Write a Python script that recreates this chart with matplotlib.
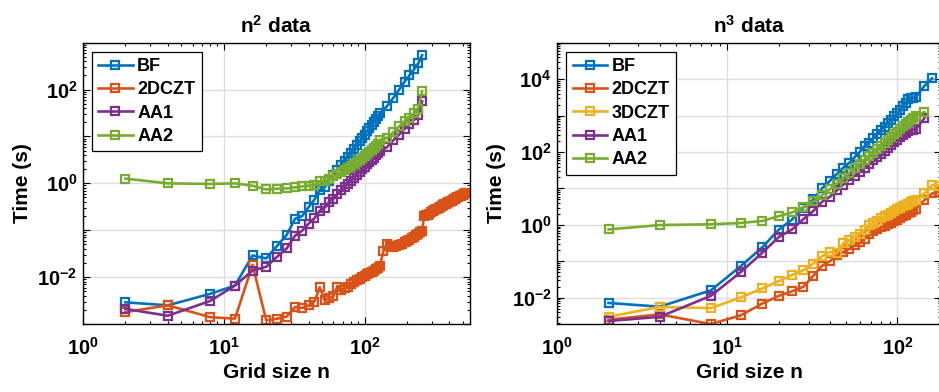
import numpy as np
import matplotlib
matplotlib.use("Agg")
import matplotlib.pyplot as plt
from matplotlib.ticker import LogLocator, FuncFormatter, NullFormatter

plt.rcParams['font.family'] = ['Liberation Sans', 'DejaVu Sans']
plt.rcParams['font.weight'] = 'bold'
plt.rcParams['mathtext.fontset'] = 'custom'
plt.rcParams['mathtext.rm'] = 'Liberation Sans:bold'
plt.rcParams['mathtext.bf'] = 'Liberation Sans:bold'
plt.rcParams['mathtext.it'] = 'Liberation Sans:bold'

# ---------------- n^2 data ----------------
n2_grid = [2, 4, 8, 12, 16, 20, 24, 28, 32, 36, 40, 44, 48, 52, 56, 60, 64, 68, 72, 76,
           80, 84, 88, 92, 96, 100, 104, 108, 112, 116, 120, 124, 128,
           144, 160, 176, 192, 208, 224, 240, 256]
n2_bf = [0.0029, 0.0025, 0.0044, 0.0066, 0.029, 0.025, 0.047, 0.080, 0.176, 0.20,
         0.31, 0.45, 0.73, 0.82, 1.14, 1.48, 1.95, 2.5, 3.0, 3.7,
         4.5, 5.4, 6.5, 7.9, 9.3, 11.0, 12.9, 15.0, 17.4, 20.0, 23.3, 27.6, 31.0,
         44, 67, 100, 147, 200, 269, 361, 540]
n2_aa1 = [0.0021, 0.0015, 0.0031, 0.0066, 0.0138, 0.0166, 0.0275, 0.041, 0.076, 0.098,
          0.138, 0.18, 0.26, 0.30, 0.41, 0.47, 0.59, 0.71, 0.84, 0.99,
          1.14, 1.32, 1.53, 1.75, 2.0, 2.24, 2.55, 2.87, 3.2, 3.55, 3.97, 4.4, 4.8,
          5.9, 8.3, 11.0, 14.5, 18.6, 22.3, 28.5, 56]
n2_aa2 = [1.26, 1.0, 0.97, 1.0, 0.89, 0.74, 0.77, 0.78, 0.82, 0.86,
          0.89, 0.92, 1.1, 1.1, 1.24, 1.41, 1.56, 1.72, 1.9, 2.1,
          2.3, 2.55, 2.8, 3.1, 3.4, 3.8, 4.2, 4.6, 5.1, 5.6, 6.2, 6.9, 8.5,
          9.2, 12.3, 16.5, 21, 25, 31, 39, 92]
n2_czt_grid = [2, 4, 8, 12, 16, 20, 24, 28, 32, 36, 40, 44, 48, 52, 56, 60, 64, 68, 72, 76,
               80, 84, 88, 92, 96, 100, 104, 108, 112, 116, 120, 124, 128,
               136, 144, 152, 160, 168, 176, 184, 192, 200, 208, 216, 224, 232, 240, 248, 256,
               264, 272, 280, 288, 296, 304, 312, 320, 328, 336, 344, 352, 360, 368, 376, 384,
               392, 400, 408, 416, 424, 432, 440, 448, 456, 464, 472, 480, 488, 496, 504, 512]
n2_czt = [0.0018, 0.0025, 0.0014, 0.0013, 0.0183, 0.0012, 0.0013, 0.00144, 0.0023, 0.0022,
          0.0025, 0.0030, 0.0061, 0.0032, 0.0036, 0.0039, 0.0063, 0.0052, 0.0058, 0.0063,
          0.0071, 0.0079, 0.0085, 0.0093, 0.0100, 0.0107, 0.0114, 0.0120, 0.0129, 0.0138,
          0.0148, 0.0155, 0.0170,
          0.036, 0.052, 0.046, 0.043, 0.045, 0.048, 0.050, 0.055, 0.060, 0.063, 0.067,
          0.072, 0.078, 0.084, 0.090, 0.095,
          0.20, 0.21, 0.215, 0.225, 0.24, 0.255, 0.265, 0.28, 0.29, 0.30, 0.31, 0.33,
          0.34, 0.355, 0.37, 0.38, 0.40, 0.41, 0.42, 0.43, 0.45, 0.46, 0.47, 0.48,
          0.50, 0.51, 0.53, 0.54, 0.56, 0.57, 0.58, 0.62]

# ---------------- n^3 data ----------------
n3_grid = [2, 4, 8, 12, 16, 20, 24, 28, 32, 36, 40, 44, 48, 52, 56, 60, 64, 68, 72, 76,
           80, 84, 88, 92, 96, 100, 104, 108, 112, 116, 120, 124, 128, 144, 160, 176]
n3_bf = [0.0072, 0.0057, 0.016, 0.074, 0.24, 0.73, 1.4, 3.0, 5.0, 10,
         16, 25, 37, 50, 72, 100, 145, 180, 240, 310,
         400, 500, 630, 780, 960, 1200, 1450, 1800, 2200, 2900, 3100, 3100, 3200,
         6500, 10500]
n3_czt2 = [0.0025, 0.0035, 0.0019, 0.0033, 0.0069, 0.0112, 0.015, 0.020, 0.040, 0.075,
           0.10, 0.147, 0.18, 0.22, 0.28, 0.34, 0.42, 0.58, 0.67, 0.75,
           0.85, 0.95, 1.05, 1.15, 1.3, 1.4, 1.55, 1.7, 1.9, 2.1, 2.3, 2.5, 2.8,
           4.8, 7.3, 8.0]
n3_czt3 = [0.0030, 0.0056, 0.0052, 0.0102, 0.018, 0.0285, 0.042, 0.057, 0.087, 0.138,
           0.18, 0.17, 0.31, 0.38, 0.47, 0.58, 0.72, 0.98, 1.13, 1.3,
           1.5, 1.7, 1.9, 2.15, 2.4, 2.65, 2.9, 3.2, 3.5, 3.8, 4.2, 4.6, 4.9,
           7.3, 12.3, 12.0]
n3_aa1 = [0.0023, 0.0030, 0.0113, 0.051, 0.17, 0.46, 0.75, 1.45, 2.4, 4.3,
          5.9, 8.9, 12.8, 17, 22, 28.5, 37, 46, 59, 72,
          89, 107, 130, 156, 185, 220, 255, 295, 335, 370, 400, 410, 420, 850]
n3_aa2 = [0.75, 0.99, 1.04, 1.13, 1.28, 1.73, 2.2, 3.1, 4.4, 6.5,
          9.5, 13.6, 19.5, 27, 36, 47, 61, 78, 96, 120,
          148, 180, 215, 260, 310, 365, 430, 510, 590, 680, 780, 870, 960, 1260]

c_bf = '#0072BD'
c_czt2 = '#D95319'
c_czt3 = '#EDB120'
c_aa1 = '#7E2F8E'
c_aa2 = '#77AC30'

fig = plt.figure(figsize=(9.39, 3.92), dpi=100)
W, H = 939.0, 392.0
ax1 = fig.add_axes([83 / W, 1 - 324 / H, 387 / W, (324 - 42.7) / H])
ax2 = fig.add_axes([557.3 / W, 1 - 324 / H, 384 / W, (324 - 42.7) / H])


def style(x, y, c, label, ax):
    ax.plot(x, y, '-s', color=c, lw=1.9, ms=5.2, mfc='none', mew=1.6, label=label)


style(n2_grid, n2_bf, c_bf, 'BF', ax1)
style(n2_czt_grid, n2_czt, c_czt2, '2DCZT', ax1)
style(n2_grid, n2_aa1, c_aa1, 'AA1', ax1)
style(n2_grid, n2_aa2, c_aa2, 'AA2', ax1)

style(n3_grid[:35], n3_bf, c_bf, 'BF', ax2)
style(n3_grid, n3_czt2, c_czt2, '2DCZT', ax2)
style(n3_grid, n3_czt3, c_czt3, '3DCZT', ax2)
style(n3_grid[:34], n3_aa1, c_aa1, 'AA1', ax2)
style(n3_grid[:34], n3_aa2, c_aa2, 'AA2', ax2)


def fmt_even(v, pos):
    e = int(round(np.log10(v)))
    return r'$10^{%d}$' % e if e % 2 == 0 else ''


def fmt_all(v, pos):
    e = int(round(np.log10(v)))
    return r'$10^{%d}$' % e


for ax, ylim, yt, title in [(ax1, (1e-3, 1e3), [10.0 ** k for k in range(-3, 4)], r'n$^2$ data'),
                            (ax2, (10 ** -2.72, 1e5), [10.0 ** k for k in range(-2, 6)], r'n$^3$ data')]:
    ax.set_xscale('log')
    ax.set_yscale('log')
    ax.set_ylim(*ylim)
    ax.set_yticks(yt)
    ax.yaxis.set_major_formatter(FuncFormatter(fmt_even))
    ax.yaxis.set_minor_locator(LogLocator(base=10, subs=np.arange(2, 10), numticks=20))
    ax.yaxis.set_minor_formatter(NullFormatter())
    ax.set_xticks([1, 10, 100])
    ax.xaxis.set_major_formatter(FuncFormatter(fmt_all))
    ax.xaxis.set_minor_locator(LogLocator(base=10, subs=np.arange(2, 10), numticks=20))
    ax.xaxis.set_minor_formatter(NullFormatter())
    ax.grid(True, which='major', color='#dedede', lw=1.0)
    ax.set_axisbelow(True)
    ax.tick_params(which='both', direction='in', top=True, right=True, width=0.8)
    ax.tick_params(which='major', length=5, labelsize=14.5)
    ax.tick_params(which='minor', length=2.5)
    ax.tick_params(axis='x', pad=9)
    ax.tick_params(axis='y', pad=4)
    for s in ax.spines.values():
        s.set_linewidth(1.0)
    ax.set_xlabel('Grid size n', fontsize=15, fontweight='bold', labelpad=3)
    ax.set_ylabel('Time (s)', fontsize=15, fontweight='bold', labelpad=4)
    ax.set_title(title, fontsize=15, fontweight='bold', pad=7)
    leg = ax.legend(loc='upper left', fontsize=13, frameon=True, fancybox=False,
                    edgecolor='black', framealpha=1, handlelength=1.9,
                    borderaxespad=0.5, labelspacing=0.35, borderpad=0.35, handletextpad=0.25)
    leg.get_frame().set_linewidth(0.9)
    for t in leg.get_texts():
        t.set_fontweight('bold')

ax1.set_xlim(1, 560)
ax2.set_xlim(1, 181)

fig.savefig('out.png', dpi=100)
